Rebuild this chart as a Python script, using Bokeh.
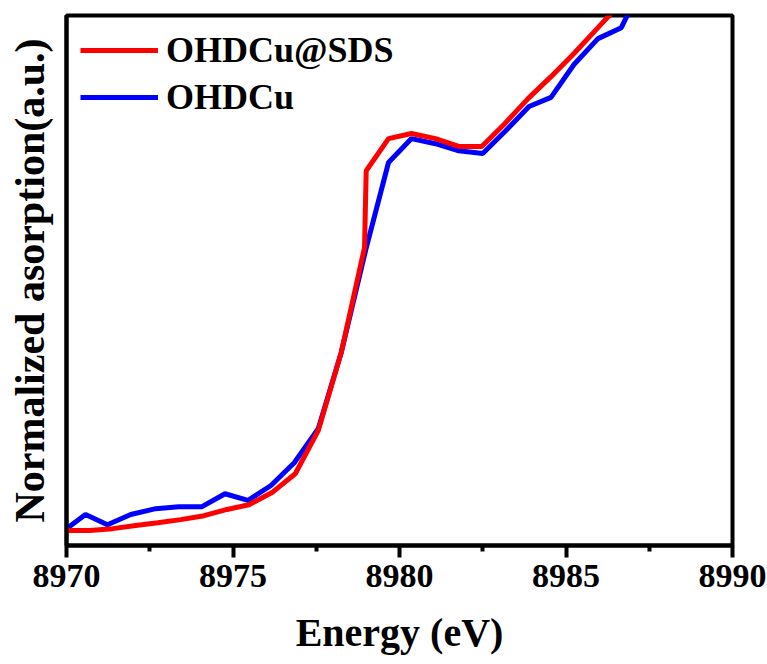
from bokeh.plotting import figure
from bokeh.models import Range1d, FixedTicker, Legend, LegendItem
from bokeh.embed import file_html
from bokeh.resources import INLINE

# Data
energy_sds = [8970.00, 8970.69, 8971.39, 8972.08, 8972.74, 8973.43, 8974.13, 8974.82,
              8975.48, 8976.17, 8976.87, 8977.56, 8978.25, 8978.95, 8979.00, 8979.67,
              8980.36, 8981.08, 8981.78, 8982.47, 8983.16, 8983.86, 8984.55, 8985.24,
              8985.96, 8986.66]
mu_sds = [0.000, 0.000, 0.005, 0.013, 0.020, 0.028, 0.038, 0.054,
          0.066, 0.097, 0.145, 0.255, 0.454, 0.722, 0.918, 1.000,
          1.013, 1.000, 0.980, 0.980, 1.038, 1.102, 1.158, 1.217,
          1.283, 1.347]

energy_cu = [8970.00, 8970.57, 8971.23, 8971.93, 8972.68, 8973.37, 8974.07, 8974.76,
             8975.45, 8976.14, 8976.84, 8977.56, 8978.25, 8978.98, 8979.67, 8980.36,
             8981.08, 8981.78, 8982.50, 8983.19, 8983.89, 8984.55, 8985.24, 8985.96,
             8986.66, 8987.35]
mu_cu = [0.005, 0.041, 0.015, 0.041, 0.056, 0.061, 0.061, 0.094,
         0.077, 0.115, 0.173, 0.260, 0.454, 0.714, 0.939, 1.000,
         0.987, 0.969, 0.962, 1.020, 1.082, 1.105, 1.189, 1.255,
         1.283, 1.403]

series_names = ["OHDCu@SDS", "OHDCu"]
x_ticks = [8970, 8975, 8980, 8985, 8990]
x_minor = [8972.5, 8977.5, 8982.5, 8987.5]

FONT = "Liberation Serif"

p = figure(width=767, height=664, output_backend="svg", toolbar_location=None,
           x_range=Range1d(8970, 8990), y_range=Range1d(-0.038, 1.314),
           min_border_left=66, min_border_right=35, min_border_top=15,
           min_border_bottom=119)

p.outline_line_color = "black"
p.outline_line_width = 4
p.xgrid.visible = False
p.ygrid.visible = False

r_cu = p.line(energy_cu, mu_cu, line_color="#0000FF", line_width=5)
r_sds = p.line(energy_sds, mu_sds, line_color="#FF0000", line_width=5)

# x axis
xa = p.xaxis[0]
xa.ticker = FixedTicker(ticks=x_ticks, minor_ticks=x_minor)
xa.axis_line_width = 4
xa.major_tick_line_width = 4
xa.major_tick_out = 12
xa.major_tick_in = 0
xa.minor_tick_line_width = 4
xa.minor_tick_out = 6
xa.minor_tick_in = 0
xa.major_label_text_font = FONT
xa.major_label_text_font_style = "bold"
xa.major_label_text_font_size = "34px"
xa.major_label_text_color = "black"
xa.major_label_standoff = 7
xa.axis_label = "Energy (eV)"
xa.axis_label_text_font = FONT
xa.axis_label_text_font_style = "bold"
xa.axis_label_text_font_size = "40px"
xa.axis_label_text_color = "black"
xa.axis_label_standoff = 20

# y axis (no ticks, only label)
ya = p.yaxis[0]
ya.axis_line_width = 4
ya.major_tick_line_color = None
ya.minor_tick_line_color = None
ya.major_label_text_font_size = "0px"
ya.major_label_text_color = None
ya.axis_label = "Normalized asorption(a.u.)"
ya.axis_label_text_font = FONT
ya.axis_label_text_font_style = "bold"
ya.axis_label_text_font_size = "42px"
ya.axis_label_text_color = "black"
ya.axis_label_standoff = 8

legend = Legend(items=[LegendItem(label=series_names[0], renderers=[r_sds]),
                       LegendItem(label=series_names[1], renderers=[r_cu])],
                location="top_left")
legend.border_line_color = None
legend.background_fill_alpha = 0
legend.label_text_font = FONT
legend.label_text_font_style = "bold"
legend.label_text_font_size = "36px"
legend.label_text_color = "black"
legend.glyph_width = 78
legend.glyph_height = 40
legend.label_height = 40
legend.label_standoff = 8
legend.spacing = 5
legend.margin = 14
legend.padding = 15
p.add_layout(legend)

open("out.html", "w").write(file_html(p, INLINE))
